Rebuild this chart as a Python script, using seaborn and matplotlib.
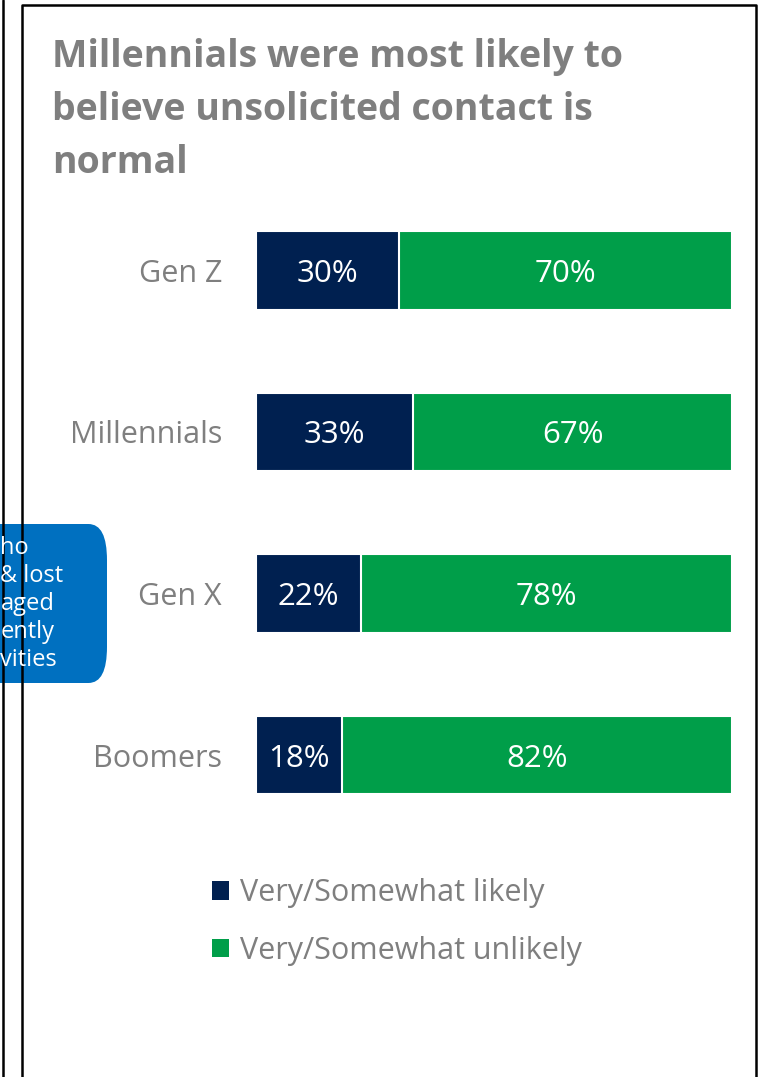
import matplotlib
matplotlib.use("Agg")
import matplotlib.pyplot as plt
import seaborn as sns
import pandas as pd
from matplotlib.patches import Patch, FancyBboxPatch
from matplotlib.lines import Line2D

categories = ["Gen Z", "Millennials", "Gen X", "Boomers"]
likely = [30, 33, 22, 18]
unlikely = [70, 67, 78, 82]
series_names = ["Very/Somewhat likely", "Very/Somewhat unlikely"]
title_lines = ["Millennials were most likely to", "believe unsolicited contact is", "normal"]
side_note = ["ho", "& lost", "aged", "ently", "vities"]

NAVY = "#002050"
GREEN = "#009E49"
GREY = "#7F7F7F"
BLUE = "#0070C0"

W, H = 771, 1077
sns.set_theme(style="white")
FONT = "Open Sans"
plt.rcParams["font.family"] = [FONT, "DejaVu Sans"]

fig = plt.figure(figsize=(W / 100, H / 100), dpi=100)

def fx(x):
    return x / W

def fy(y):
    return 1 - y / H

ax = fig.add_axes([fx(256), fy(836), fx(732) - fx(256), (836 - 189.5) / H])

df = pd.DataFrame({"cat": categories, "likely": likely, "unlikely": unlikely})
df["total"] = df["likely"] + df["unlikely"]

sns.barplot(data=df, x="total", y="cat", orient="h", color=GREEN, width=0.485,
            saturation=1, edgecolor="white", linewidth=1.5, ax=ax)
sns.barplot(data=df, x="likely", y="cat", orient="h", color=NAVY, width=0.485,
            saturation=1, edgecolor="white", linewidth=1.5, ax=ax)

ax.set_xlim(0, 100)
ax.set_xlabel("")
ax.set_ylabel("")
ax.set_xticks([])
for s in ax.spines.values():
    s.set_visible(False)
ax.tick_params(axis="y", length=0, pad=24.5, labelsize=22, labelcolor=GREY)

for i, (l, u) in enumerate(zip(likely, unlikely)):
    ax.text(l / 2, i, f"{l}%", ha="center", va="center_baseline", color="white", fontsize=22.5)
    ax.text(l + u / 2, i, f"{u}%", ha="center", va="center_baseline", color="white", fontsize=22.5)

for line, base in zip(title_lines, [66.7, 120, 173]):
    fig.text(fx(52), fy(base), line, ha="left", va="baseline", fontsize=27,
             fontweight="bold", color=GREY)

handles = [Patch(facecolor=NAVY, edgecolor="none", label=series_names[0]),
           Patch(facecolor=GREEN, edgecolor="none", label=series_names[1])]
fig.legend(handles=handles, loc="upper left", bbox_to_anchor=(fx(184.5), fy(851)),
           frameon=False, fontsize=22, handlelength=0.55, handleheight=0.55,
           handletextpad=0.38, labelspacing=0.9, labelcolor=GREY)

fig.add_artist(Line2D([fx(2.5), fx(2.5)], [0, 1], color="black", lw=1.8))
fig.add_artist(Line2D([fx(21.5), fx(21.5), fx(756), fx(756)], [0, fy(4.5), fy(4.5), 0],
                      color="black", lw=1.8))

box = FancyBboxPatch((fx(-40), fy(683)), fx(147), (683 - 524) / H,
                     boxstyle="round,pad=0,rounding_size=0.024",
                     transform=fig.transFigure, facecolor=BLUE, edgecolor="none",
                     mutation_aspect=H / W)
fig.add_artist(box)
ys = [548, 576, 604, 632, 660]
for t, yy in zip(side_note, ys):
    fig.text(fx(0.5), fy(yy), t, ha="left", va="center", color="white", fontsize=17)

fig.savefig("out.png", dpi=100)
